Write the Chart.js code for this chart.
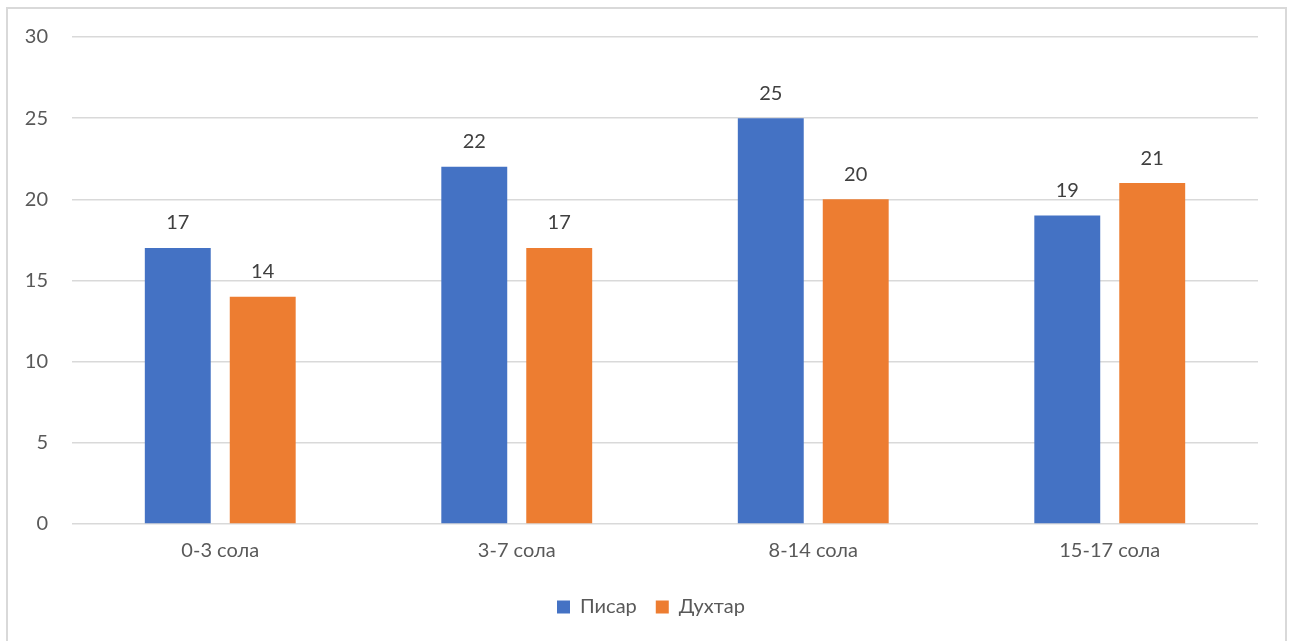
<!DOCTYPE html>
<html>
<head>
<meta charset="utf-8">
<script src="https://cdn.jsdelivr.net/npm/chart.js@4"></script>
<style>
  html, body { margin: 0; padding: 0; background: #fff; }
  #frame {
    position: absolute; left: 6px; top: 7px; width: 1281px; height: 650px;
    border: 2px solid #d9d9d9; box-sizing: border-box;
  }
  #wrap { position: absolute; left: 0; top: 0; width: 1293px; height: 641px; }
</style>
</head>
<body>
<div id="frame"></div>
<div id="wrap"><canvas id="chart"></canvas></div>
<script>
// ===== data =====
const categories = ["0-3 сола", "3-7 сола", "8-14 сола", "15-17 сола"];
const boys = [17, 22, 25, 19];
const girls = [14, 17, 20, 21];
const seriesNames = ["Писар", "Духтар"];
const yTicks = [0, 5, 10, 15, 20, 25, 30];

const FONT = "Lato, 'Open Sans', sans-serif";
const FS = 20;

// value labels above bars
const valueLabels = {
  id: "valueLabels",
  afterDatasetsDraw(chart) {
    const ctx = chart.ctx;
    ctx.save();
    ctx.font = FS + "px " + FONT;
    ctx.fillStyle = "#404040";
    ctx.textAlign = "center";
    ctx.textBaseline = "middle";
    chart.data.datasets.forEach((ds, i) => {
      chart.getDatasetMeta(i).data.forEach((bar, j) => {
        ctx.fillText(ds.data[j], bar.x, bar.y - 25);
      });
    });
    ctx.restore();
  },
};

// nudge the legend a bit to the right, like the original
const legendShift = {
  id: "legendShift",
  afterLayout(chart) {
    chart.legend.left += 11;
    chart.legend.right += 11;
  },
};

new Chart(document.getElementById("chart"), {
  type: "bar",
  data: {
    labels: categories,
    datasets: [
      {
        label: seriesNames[0],
        data: boys,
        backgroundColor: "#4472C4",
        categoryPercentage: 0.573,
        barPercentage: 0.776,
      },
      {
        label: seriesNames[1],
        data: girls,
        backgroundColor: "#ED7D31",
        categoryPercentage: 0.573,
        barPercentage: 0.776,
      },
    ],
  },
  options: {
    responsive: true,
    maintainAspectRatio: false,
    animation: false,
    layout: { padding: { left: 22, right: 35, top: 37, bottom: 14 } },
    plugins: {
      legend: {
        position: "bottom",
        labels: {
          color: "#595959",
          font: { family: FONT, size: FS },
          boxWidth: 13,
          boxHeight: 13,
          padding: 19,
        },
      },
      tooltip: { enabled: false },
    },
    scales: {
      y: {
        min: 0,
        max: 30,
        afterBuildTicks: (axis) => {
          axis.ticks = yTicks.map((v) => ({ value: v }));
        },
        afterFit: (axis) => {
          axis.width = 50;
        },
        border: { display: false },
        grid: { color: "#d9d9d9", lineWidth: 1.5, drawTicks: false },
        ticks: { color: "#595959", font: { family: FONT, size: FS }, padding: 24 },
      },
      x: {
        border: { display: false },
        grid: { display: false, drawTicks: false },
        ticks: { color: "#595959", font: { family: FONT, size: FS }, padding: 15 },
      },
    },
  },
  plugins: [valueLabels, legendShift],
});
</script>
</body>
</html>
